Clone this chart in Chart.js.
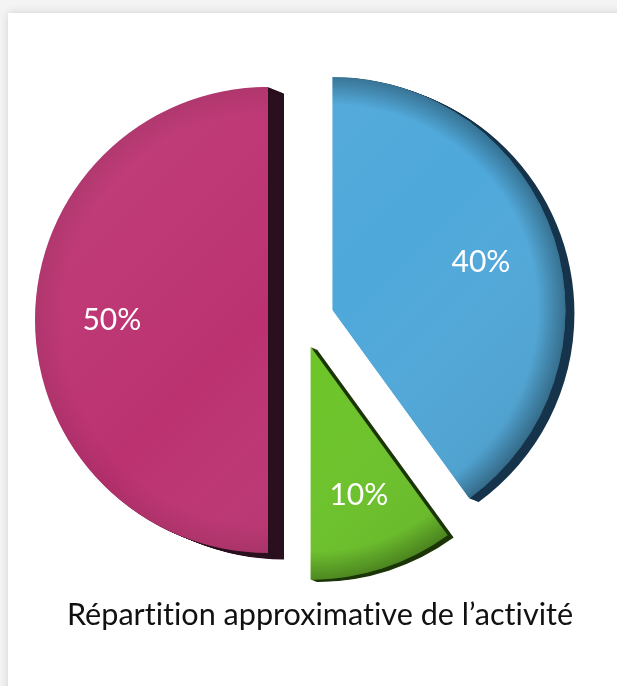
<!DOCTYPE html>
<html lang="fr">
<head>
<meta charset="utf-8">
<title>Répartition approximative de l'activité</title>
<script src="https://cdn.jsdelivr.net/npm/chart.js@4.4.1/dist/chart.umd.min.js"></script>
<style>
    html, body{ margin:0; padding:0; }
    body{ width:617px; height:686px; background:#f4f4f4; position:relative; overflow:hidden; }
    .card{ position:absolute; left:8px; top:13px; width:640px; height:700px; background:#fff; box-shadow:0 0 9px rgba(0,0,0,0.14); }
    #pieChart{ position:absolute; left:0; top:0; }
    .caption{ position:absolute; left:0; top:599px; width:640px; text-align:center; font:30.6px/30px Lato, "Noto Sans", sans-serif; font-variant-ligatures:none; color:#111; white-space:nowrap; }
</style>
</head>
<body>
<div class="card"></div>
<canvas id="pieChart" width="617" height="686"></canvas>
<div class="caption" id="caption"></div>
<script>
const sliceLabels = ["40%", "10%", "50%"];
const sliceValues = [40, 10, 50];
const chartTitle = "Répartition approximative de l’activité";

const faceColors = ["#4ea8da", "#6bc427", "#bc3271"];
const sideColors = ["#15334a", "#1b3507", "#2a0f1e"];
const explode = [32, 28, 34];
const depth = [9, 6, 16];
const rimShade = [0.32, 0.28, 0.08];

document.getElementById("caption").textContent = chartTitle;

function arcProps(arc){
    return arc.getProps(["x", "y", "startAngle", "endAngle", "outerRadius"], true);
}

// move each slice out along its bisector
const explodePlugin = {
    id:"explode",
    afterDatasetUpdate(chart, args){
        const meta = chart.getDatasetMeta(args.index);
        meta.data.forEach((arc, i) => {
            const mid = (arc.startAngle + arc.endAngle) / 2;
            const d = explode[i] || 0;
            arc.x += Math.cos(mid) * d;
            arc.y += Math.sin(mid) * d;
        });
    }
};

function slicePath(ctx, p, dx, dy){
    ctx.beginPath();
    ctx.moveTo(p.x + dx, p.y + dy);
    ctx.arc(p.x + dx, p.y + dy, p.outerRadius, p.startAngle, p.endAngle);
    ctx.closePath();
}

// dark extruded side under each face + rim shading on top
const depthPlugin = {
    id:"depth",
    beforeDatasetsDraw(chart){
        const ctx = chart.ctx;
        const arcs = chart.getDatasetMeta(0).data;
        ctx.save();
        arcs.forEach((arc, i) => {
            const p = arcProps(arc);
            ctx.fillStyle = sideColors[i];
            for(let k = 1; k <= depth[i]; k++){
                slicePath(ctx, p, k, k * 0.4);
                ctx.fill();
            }
        });
        ctx.restore();
    },
    afterDatasetsDraw(chart){
        const ctx = chart.ctx;
        const arcs = chart.getDatasetMeta(0).data;
        arcs.forEach((arc, i) => {
            const p = arcProps(arc);
            const R = p.outerRadius;
            ctx.save();
            slicePath(ctx, p, 0, 0);
            ctx.clip();
            const lin = ctx.createLinearGradient(p.x - R, p.y - R, p.x + R, p.y + R);
            lin.addColorStop(0, "rgba(255,255,255,0.08)");
            lin.addColorStop(0.5, "rgba(255,255,255,0)");
            lin.addColorStop(1, "rgba(0,0,0,0.16)");
            ctx.fillStyle = lin;
            ctx.fillRect(p.x - R, p.y - R, R * 2, R * 2);
            const rad = ctx.createRadialGradient(p.x, p.y, 0, p.x, p.y, R);
            rad.addColorStop(0, "rgba(0,0,0,0)");
            rad.addColorStop(0.88, "rgba(0,0,0,0)");
            rad.addColorStop(1, `rgba(0,0,0,${rimShade[i]})`);
            ctx.fillStyle = rad;
            ctx.fillRect(p.x - R, p.y - R, R * 2, R * 2);
            ctx.restore();
        });
    }
};

const labelPlugin = {
    id:"sliceLabels",
    afterDraw(chart){
        const ctx = chart.ctx;
        const arcs = chart.getDatasetMeta(0).data;
        ctx.save();
        ctx.fillStyle = "#ffffff";
        ctx.font = "30px Lato, 'Noto Sans', sans-serif";
        ctx.textAlign = "center";
        ctx.textBaseline = "middle";
        arcs.forEach((arc, i) => {
            const mid = (arc.startAngle + arc.endAngle) / 2;
            const r = arc.outerRadius * 0.67;
            ctx.fillText(sliceLabels[i], arc.x + Math.cos(mid) * r, arc.y + Math.sin(mid) * r);
        });
        ctx.restore();
    }
};

const ctx = document.getElementById("pieChart").getContext("2d");
new Chart(ctx,{
    type:"pie",
    data:{
        labels:sliceLabels,
        datasets:[{
            data:sliceValues,
            backgroundColor:faceColors,
            borderWidth:0
        }]
    },
    options:{
        responsive:false,
        animation:false,
        radius:233,
        layout:{ padding:{ left:42, right:55, top:40, bottom:86 } },
        plugins:{
            legend:{ display:false },
            title:{ display:false },
            tooltip:{ enabled:false }
        },
        events:[]
    },
    plugins:[explodePlugin, depthPlugin, labelPlugin]
});
</script>
</body>
</html>
